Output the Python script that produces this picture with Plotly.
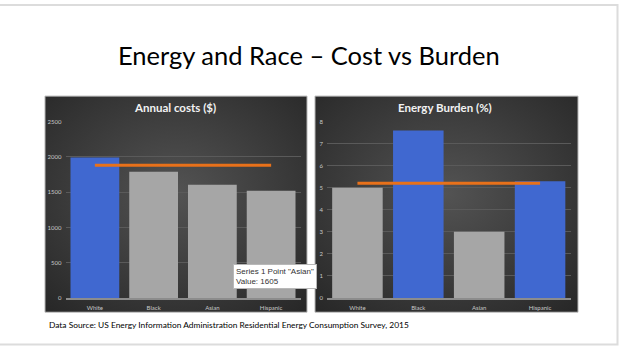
import base64
import plotly.graph_objects as go

# ---- data ----
categories = ["White", "Black", "Asian", "Hispanic"]
annual_costs = [1990, 1790, 1605, 1520]
cost_line = [1880, 1880, 1880, 1880]
energy_burden = [5.0, 7.6, 3.0, 5.3]
burden_line = [5.2, 5.2, 5.2, 5.2]
cost_colors = ["#4068D0", "#A6A6A6", "#A6A6A6", "#A6A6A6"]
burden_colors = ["#A6A6A6", "#4068D0", "#A6A6A6", "#4068D0"]
cost_ticks = [0, 500, 1000, 1500, 2000, 2500]
burden_ticks = [0, 1, 2, 3, 4, 5, 6, 7, 8]

W, H = 620, 350
FONT = "Lato"
ORANGE = "#E8711A"


def px(x):
    return x / W


def py(y):
    return 1 - y / H


fig = go.Figure()

fig.add_trace(go.Bar(x=categories, y=annual_costs, marker=dict(color=cost_colors, line=dict(width=0)),
                     xaxis="x", yaxis="y", showlegend=False, hoverinfo="skip"))
fig.add_trace(go.Scatter(x=categories, y=cost_line, mode="lines", line=dict(color=ORANGE, width=3),
                         xaxis="x", yaxis="y", showlegend=False, hoverinfo="skip"))
fig.add_trace(go.Bar(x=categories, y=energy_burden, marker=dict(color=burden_colors, line=dict(width=0)),
                     xaxis="x2", yaxis="y2", showlegend=False, hoverinfo="skip"))
fig.add_trace(go.Scatter(x=categories, y=burden_line, mode="lines", line=dict(color=ORANGE, width=3),
                         xaxis="x2", yaxis="y2", showlegend=False, hoverinfo="skip"))

axis_font = dict(family=FONT, size=6, color="#C8C8C8")
common_x = dict(showgrid=False, showline=True, linecolor="#8C8C8C", linewidth=1.5,
                tickfont=axis_font, ticks="", ticklabelstandoff=3, fixedrange=True)
common_y = dict(showgrid=True, gridcolor="#5A5A5A", gridwidth=1, zeroline=False, showline=False,
                tickfont=axis_font, ticks="", ticklabelstandoff=3, fixedrange=True)

svg = ("<svg xmlns='http://www.w3.org/2000/svg' width='262' height='220' viewBox='0 0 262 220' "
       "preserveAspectRatio='none'><defs><radialGradient id='g' cx='50%' cy='45%' r='72%'>"
       "<stop offset='0' stop-color='#535353'/><stop offset='1' stop-color='#282828'/>"
       "</radialGradient></defs><rect width='262' height='220' fill='url(#g)'/></svg>")
bg_src = "data:image/svg+xml;base64," + base64.b64encode(svg.encode()).decode()

panels = [(45, 307), (315, 578)]
images = []
shapes = []
for x0, x1 in panels:
    images.append(dict(source=bg_src, xref="paper", yref="paper", x=px(x0), y=py(94),
                       sizex=px(x1) - px(x0), sizey=py(94) - py(314.5), sizing="stretch",
                       xanchor="left", yanchor="top", layer="below"))
    shapes.append(dict(type="rect", xref="paper", yref="paper", x0=px(x0), x1=px(x1),
                       y0=py(314.5), y1=py(94), line=dict(color="#B5B5B5", width=1), layer="below"))
# slide frame
shapes.append(dict(type="rect", xref="paper", yref="paper", x0=px(-2), x1=px(617.5),
                   y0=py(347.5), y1=py(1), line=dict(color="#DCDCDC", width=2)))

annotations = [
    dict(text="Energy and Race – Cost vs Burden", xref="paper", yref="paper", x=px(309), y=py(52),
         showarrow=False, font=dict(family=FONT, size=25.5, color="#000000"), xanchor="center", yanchor="middle"),
    dict(text="<b>Annual costs ($)</b>", xref="paper", yref="paper", x=px(175), y=py(106),
         showarrow=False, font=dict(family=FONT, size=11.5, color="#F2F2F2"), xanchor="center", yanchor="middle"),
    dict(text="<b>Energy Burden (%)</b>", xref="paper", yref="paper", x=px(445), y=py(106),
         showarrow=False, font=dict(family=FONT, size=11.5, color="#F2F2F2"), xanchor="center", yanchor="middle"),
    dict(text="Data Source: US Energy Information Administration Residential Energy Consumption Survey, 2015",
         xref="paper", yref="paper", x=px(47), y=py(328), showarrow=False,
         font=dict(family=FONT, size=8.4, color="#000000"), xanchor="left", yanchor="middle"),
    dict(text='Series 1 Point "Asian"<br>Value: 1605', xref="paper", yref="paper", x=px(233), y=py(265),
         showarrow=False, align="left", xanchor="left", yanchor="top",
         font=dict(family="Liberation Sans", size=8, color="#333333"),
         bgcolor="#FFFFFF", bordercolor="#B8B8B8", borderwidth=1, borderpad=2),
]

fig.update_layout(
    width=W, height=H, margin=dict(l=0, r=0, t=0, b=0),
    paper_bgcolor="#FFFFFF", plot_bgcolor="rgba(0,0,0,0)",
    bargap=0.17, showlegend=False,
    xaxis=dict(domain=[px(65.5), px(300.5)], anchor="y", **common_x),
    yaxis=dict(domain=[py(300), py(120)], anchor="x", range=[0, 2500], tickvals=cost_ticks, **common_y),
    xaxis2=dict(domain=[px(327), px(570.5)], anchor="y2", **common_x),
    yaxis2=dict(domain=[py(300), py(120)], anchor="x2", range=[0, 8], tickvals=burden_ticks, **common_y),
    images=images, shapes=shapes, annotations=annotations,
)

fig.write_html("out.html")
